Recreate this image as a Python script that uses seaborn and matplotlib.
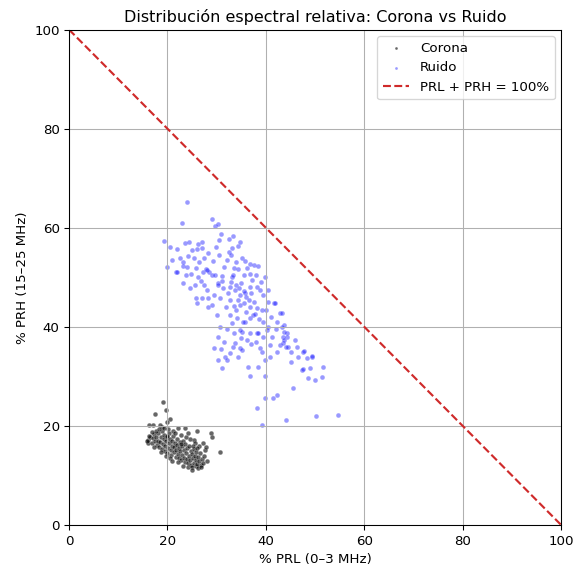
import numpy as np
import pandas as pd
import seaborn as sns
import matplotlib.pyplot as plt

# Points (% PRL, % PRH)
corona_prl = [19.1, 19.7, 17.5, 20.5, 19.9, 16.3, 17.1, 18.9, 22.2, 23.6, 26.0, 28.9, 29.1, 27.2, 30.7,
              27.6, 25.4, 16.1, 24.2, 16.0, 16.5, 16.8, 17.0, 17.2, 17.4, 17.6, 17.8, 18.0, 18.1, 18.3,
              18.5, 18.6, 18.8, 18.9, 19.0, 19.2, 19.3, 19.5, 19.6, 19.8, 19.9, 20.0, 20.1, 20.3, 20.4,
              20.5, 20.7, 20.8, 20.9, 21.0, 21.1, 21.3, 21.4, 21.5, 21.7, 21.8, 21.9, 22.0, 22.1, 22.3,
              22.4, 22.5, 22.6, 22.8, 22.9, 23.0, 23.1, 23.3, 23.4, 23.5, 23.6, 23.8, 23.9, 24.0, 24.1,
              24.3, 24.4, 24.5, 24.7, 24.8, 24.9, 25.0, 25.1, 25.3, 25.4, 25.5, 25.7, 25.8, 25.9, 26.0,
              26.2, 26.3, 26.5, 26.6, 26.8, 27.0, 27.3, 17.7, 16.9, 18.4, 20.2, 21.2, 22.7, 24.6, 26.4,
              25.6, 23.7, 21.6, 19.4, 15.8, 16.2, 17.3, 18.7, 20.6, 19.7, 22.2, 23.2, 24.9, 26.9, 27.5,
              28.0, 21.0, 22.8, 20.0, 18.2, 24.2, 25.1, 26.1, 27.8]
corona_prh = [24.8, 23.2, 22.4, 21.4, 20.8, 20.2, 20.2, 19.8, 19.6, 19.6, 19.0, 18.6, 17.8, 16.6, 14.7,
              15.2, 17.2, 16.6, 11.7, 17.2, 17.8, 16.5, 17.5, 18.3, 16.9, 17.8, 16.2, 17.0, 18.5, 15.8,
              16.8, 17.7, 19.0, 15.3, 16.4, 17.3, 18.2, 15.0, 16.0, 16.9, 17.8, 14.6, 15.6, 16.5, 18.5,
              17.4, 15.1, 14.2, 16.0, 17.0, 18.0, 14.8, 15.7, 16.6, 13.8, 15.2, 17.4, 16.1, 14.4, 13.5,
              15.6, 16.8, 14.9, 13.2, 15.9, 14.2, 17.0, 13.6, 15.2, 12.8, 16.3, 14.5, 13.3, 15.6, 12.5,
              14.0, 16.0, 13.1, 15.0, 12.2, 14.3, 11.8, 13.5, 15.3, 12.6, 14.0, 11.9, 13.2, 14.7, 12.4,
              13.8, 11.5, 12.9, 14.5, 12.1, 13.3, 12.6, 18.9, 18.8, 20.2, 19.3, 19.0, 18.2, 17.4, 16.0,
              16.5, 17.8, 18.5, 19.5, 17.0, 18.0, 15.7, 14.8, 13.6, 14.0, 12.7, 12.0, 11.2, 11.8, 14.0,
              13.0, 12.9, 16.3, 18.0, 19.3, 18.6, 16.0, 15.5, 15.8]

ruido_prl = [24.0, 23.0, 29.1, 29.7, 30.3, 19.2, 20.5, 22.0, 23.6, 24.4, 26.2, 27.0, 26.0, 27.0, 30.9,
             30.5, 32.5, 33.3, 33.1, 34.3, 34.8, 32.5, 24.2, 25.4, 28.3, 29.3, 23.2, 23.2, 21.7, 23.8,
             24.8, 25.8, 26.2, 27.2, 27.8, 28.5, 29.1, 29.7, 31.1, 33.1, 33.9, 33.5, 35.2, 35.8, 36.8,
             37.6, 36.2, 34.3, 35.6, 33.3, 36.8, 38.0, 38.4, 32.9, 30.3, 31.3, 32.7, 33.7, 34.8, 35.8,
             36.8, 38.2, 38.8, 39.4, 39.8, 25.8, 27.0, 26.0, 28.3, 30.7, 32.7, 34.3, 34.8, 36.8, 38.2,
             39.2, 41.7, 42.9, 30.1, 32.7, 34.1, 35.8, 36.8, 40.4, 42.3, 43.7, 30.3, 35.2, 36.8, 38.2,
             39.4, 44.3, 24.0, 28.0, 22.0, 24.6, 25.6, 23.2, 28.0, 28.3, 30.3, 30.7, 33.1, 34.8, 35.4,
             36.2, 37.4, 38.4, 40.2, 40.9, 41.3, 40.4, 41.9, 43.3, 44.3, 45.9, 46.3, 47.6, 48.4, 49.4,
             51.6, 47.4, 49.0, 51.4, 50.0, 48.6, 45.5, 42.3, 41.5, 39.8, 38.2, 39.2, 44.1, 50.2, 54.7,
             36.4, 36.8, 38.4, 39.8, 30.3, 31.1, 31.7, 32.1, 32.7, 33.3, 33.7, 34.3, 34.8, 35.2, 38.8,
             39.2, 40.9, 42.3, 42.9, 43.5, 44.5, 39.8, 45.1, 47.6, 43.3, 43.7, 43.5, 43.7, 44.1, 47.8,
             49.4, 33.0, 34.0, 34.5, 35.0, 35.5, 36.0, 36.5, 37.0, 37.5, 35.5, 34.0, 33.5, 36.0, 37.8,
             38.5, 39.5, 31.8, 32.2, 29.5, 29.0, 27.5, 26.8, 31.5, 32.0, 30.5, 29.8, 21.0, 20.0, 22.5,
             25.0, 26.5, 27.5, 31.0, 37.2, 39.0, 40.5, 41.0, 40.0, 42.0, 37.0, 38.0, 35.0, 33.5, 32.0,
             31.5, 30.8, 29.5, 45.0, 46.5]
ruido_prh = [65.3, 61.0, 61.8, 60.4, 60.8, 57.4, 56.2, 55.8, 57.0, 57.2, 56.8, 57.2, 55.8, 56.0, 58.8,
             57.6, 57.8, 58.4, 56.0, 56.4, 57.2, 55.2, 54.3, 53.9, 55.0, 53.3, 53.1, 52.3, 51.1, 50.5,
             50.7, 51.9, 50.1, 51.1, 51.7, 51.1, 50.5, 50.5, 50.3, 50.1, 53.1, 51.9, 53.9, 53.3, 52.7,
             52.5, 51.9, 51.7, 50.5, 50.5, 50.7, 50.5, 52.3, 54.5, 48.9, 47.9, 48.1, 47.5, 46.5, 46.9,
             48.1, 48.1, 47.5, 46.5, 50.1, 45.9, 45.9, 44.8, 44.0, 45.9, 45.5, 45.5, 44.4, 44.0, 43.8,
             43.4, 44.8, 42.8, 42.4, 42.4, 41.8, 41.0, 41.8, 40.0, 41.0, 40.4, 38.0, 39.0, 38.8, 38.8,
             38.0, 38.0, 52.1, 51.5, 51.1, 47.9, 48.5, 48.9, 47.5, 45.9, 48.5, 40.0, 40.8, 39.4, 41.0,
             37.4, 42.4, 38.8, 39.4, 36.4, 38.0, 45.0, 44.8, 40.0, 38.8, 37.4, 36.0, 35.0, 33.7, 33.9,
             31.9, 31.3, 31.7, 29.9, 29.3, 29.7, 27.7, 26.3, 25.7, 25.7, 23.6, 20.2, 21.2, 22.0, 22.2,
             31.9, 30.1, 31.9, 30.1, 33.3, 31.7, 33.9, 33.3, 34.7, 36.0, 36.8, 33.9, 35.8, 35.4, 35.8,
             35.0, 33.9, 35.0, 36.4, 36.8, 36.0, 33.3, 32.9, 31.5, 42.8, 39.0, 38.0, 37.4, 36.0, 35.2,
             34.1, 49.0, 48.5, 47.8, 48.8, 47.2, 46.0, 45.5, 46.8, 45.0, 44.8, 43.5, 44.2, 43.0, 42.5,
             41.5, 41.0, 44.0, 46.8, 46.5, 44.5, 48.5, 49.3, 52.0, 53.5, 54.5, 56.2, 53.5, 52.0, 54.0,
             55.5, 53.0, 54.0, 49.3, 49.5, 49.0, 47.5, 42.0, 43.5, 39.5, 36.5, 37.0, 37.8, 38.8, 39.5,
             37.0, 35.5, 35.8, 35.0, 34.0]

corona = pd.DataFrame({'PRL': corona_prl, 'PRH': corona_prh})
ruido = pd.DataFrame({'PRL': ruido_prl, 'PRH': ruido_prh})

fig = plt.figure(figsize=(5.99, 5.96), dpi=96)
ax = fig.add_axes([0.12, 0.082, 0.856, 0.866])

sns.scatterplot(data=corona, x='PRL', y='PRH', color='black', alpha=0.6, s=13, label='Corona', ax=ax)
sns.scatterplot(data=ruido, x='PRL', y='PRH', color='blue', alpha=0.4, s=13, label='Ruido', ax=ax)

# reference line where both bands add up to 100%
ax.plot([0, 100], [100, 0], linestyle='--', color='#cf2a2a', linewidth=1.6, label='PRL + PRH = 100%')

ax.set_xlim(0, 100)
ax.set_ylim(0, 100)
ax.set_xlabel('% PRL (0–3 MHz)')
ax.set_ylabel('% PRH (15–25 MHz)')
ax.set_title('Distribución espectral relativa: Corona vs Ruido')
ax.grid(True)
ax.legend(loc='upper right', markerscale=0.6)

fig.savefig('out.png', dpi=96)
